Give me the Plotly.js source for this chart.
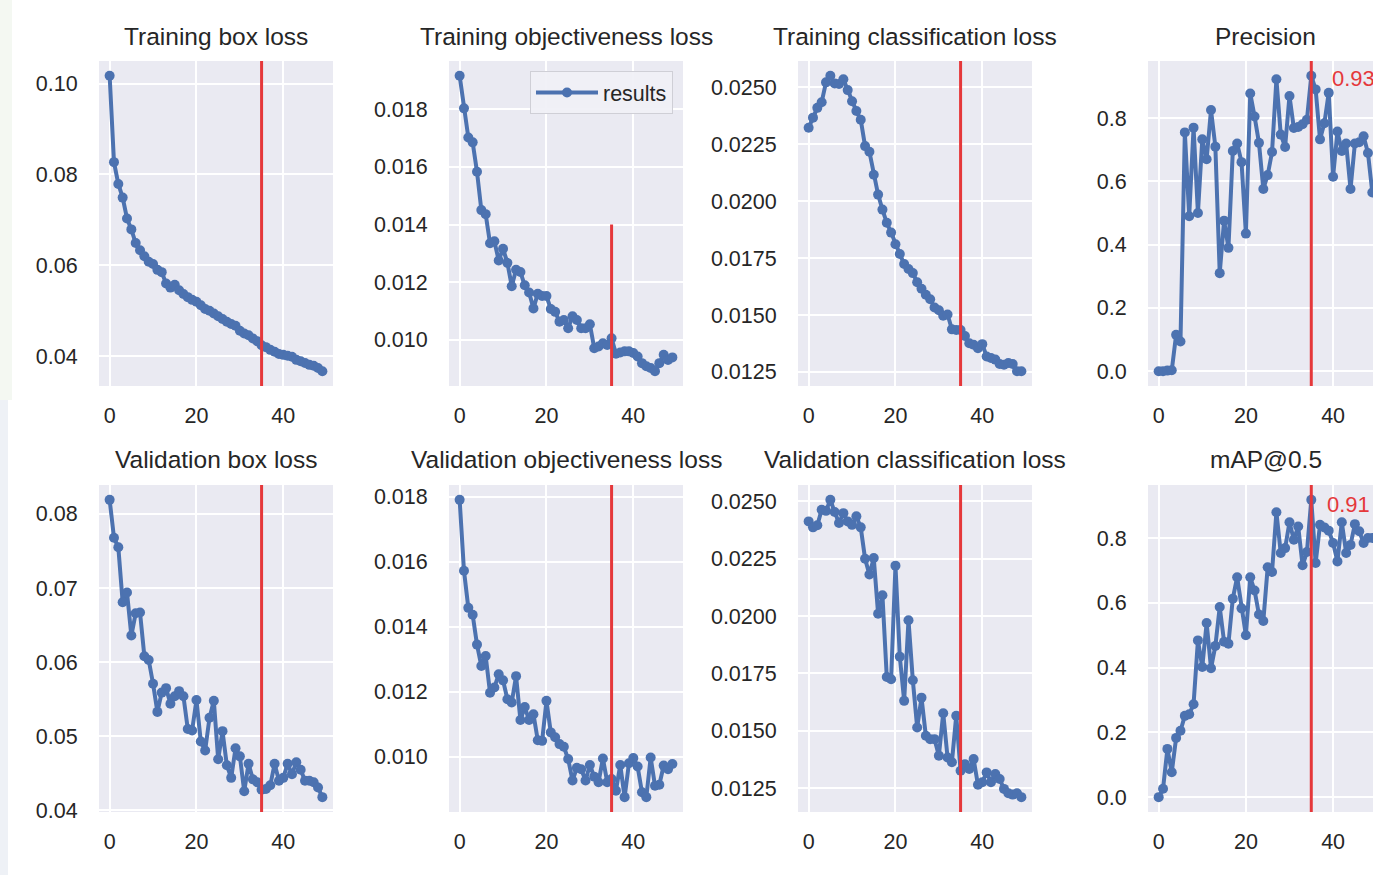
<!DOCTYPE html>
<html>
<head>
<meta charset="utf-8">
<script src="https://cdn.plot.ly/plotly-3.0.1.min.js"></script>
<style>
html,body{margin:0;padding:0;background:#ffffff;overflow:hidden;}
#chart{width:1400px;height:875px;}
</style>
</head>
<body>
<div id="chart"></div>
<script>
// ---------- data ----------
const epochs = [0,1,2,3,4,5,6,7,8,9,10,11,12,13,14,15,16,17,18,19,20,21,22,23,24,25,26,27,28,29,30,31,32,33,34,35,36,37,38,39,40,41,42,43,44,45,46,47,48,49];

const trainBox = [0.1017,0.0827,0.0779,0.0749,0.0703,0.0679,0.0649,0.0633,0.0620,0.0608,0.0603,0.0590,0.0585,0.0560,0.0551,0.0557,0.0545,0.0537,0.0530,0.0524,0.0520,0.0512,0.0504,0.0500,0.0494,0.0488,0.0482,0.0476,0.0471,0.0467,0.0456,0.0450,0.0446,0.0439,0.0433,0.0424,0.0420,0.0414,0.0410,0.0405,0.0403,0.0401,0.0399,0.0392,0.0389,0.0385,0.0381,0.0379,0.0374,0.0367];

const trainObj = [0.01916,0.01803,0.01702,0.01685,0.01583,0.01450,0.01436,0.01335,0.01342,0.01275,0.01316,0.01267,0.01186,0.01243,0.01235,0.01189,0.01164,0.01109,0.01160,0.01152,0.01152,0.01107,0.01097,0.01063,0.01069,0.01040,0.01082,0.01069,0.01040,0.01040,0.01054,0.00971,0.00977,0.00988,0.00982,0.01005,0.00952,0.00956,0.00960,0.00960,0.00954,0.00942,0.00919,0.00908,0.00902,0.00891,0.00919,0.00948,0.00930,0.00939];

const trainCls = [0.02323,0.02367,0.02410,0.02435,0.02522,0.02551,0.02517,0.02515,0.02536,0.02488,0.02439,0.02396,0.02358,0.02242,0.02217,0.02116,0.02029,0.01963,0.01905,0.01862,0.01811,0.01768,0.01724,0.01702,0.01684,0.01644,0.01615,0.01589,0.01569,0.01533,0.01521,0.01497,0.01502,0.01437,0.01434,0.01434,0.01408,0.01376,0.01369,0.01354,0.01372,0.01318,0.01311,0.01304,0.01285,0.01282,0.01289,0.01285,0.01253,0.01253];

const precision = [0.000,0.000,0.002,0.003,0.115,0.094,0.755,0.490,0.770,0.500,0.733,0.670,0.826,0.710,0.310,0.476,0.390,0.696,0.720,0.661,0.435,0.878,0.805,0.722,0.576,0.620,0.693,0.923,0.748,0.709,0.870,0.769,0.772,0.781,0.795,0.934,0.891,0.733,0.784,0.880,0.615,0.758,0.696,0.720,0.576,0.720,0.724,0.743,0.690,0.565];

const valBox = [0.0819,0.0768,0.0755,0.0681,0.0694,0.0636,0.0666,0.0667,0.0608,0.0603,0.0571,0.0533,0.0559,0.0565,0.0544,0.0554,0.0561,0.0554,0.0510,0.0508,0.0549,0.0493,0.0481,0.0525,0.0548,0.0469,0.0507,0.0461,0.0444,0.0484,0.0473,0.0426,0.0463,0.0442,0.0438,0.0428,0.0429,0.0434,0.0463,0.0440,0.0444,0.0463,0.0449,0.0465,0.0455,0.0440,0.0440,0.0438,0.0431,0.0418];

const valObj = [0.01790,0.01572,0.01458,0.01437,0.01345,0.01279,0.01310,0.01197,0.01213,0.01254,0.01235,0.01177,0.01167,0.01248,0.01113,0.01153,0.01113,0.01131,0.01051,0.01049,0.01172,0.01075,0.01060,0.01039,0.01031,0.00993,0.00927,0.00966,0.00962,0.00927,0.00975,0.00939,0.00922,0.00995,0.00922,0.00932,0.00896,0.00975,0.00876,0.00980,0.00996,0.00970,0.00891,0.00876,0.00998,0.00911,0.00914,0.00973,0.00962,0.00978];

const valCls = [0.02413,0.02387,0.02396,0.02464,0.02459,0.02507,0.02454,0.02406,0.02449,0.02413,0.02398,0.02435,0.02387,0.02250,0.02181,0.02253,0.02010,0.02091,0.01734,0.01724,0.02220,0.01823,0.01630,0.01982,0.01720,0.01514,0.01644,0.01478,0.01463,0.01463,0.01391,0.01576,0.01383,0.01362,0.01565,0.01325,0.01354,0.01333,0.01376,0.01264,0.01275,0.01318,0.01275,0.01311,0.01289,0.01246,0.01227,0.01221,0.01227,0.01210];

const map50 = [0.000,0.026,0.149,0.077,0.183,0.205,0.251,0.256,0.287,0.484,0.402,0.538,0.398,0.467,0.587,0.480,0.474,0.613,0.679,0.583,0.500,0.679,0.638,0.564,0.544,0.710,0.695,0.880,0.754,0.769,0.849,0.795,0.836,0.716,0.757,0.918,0.723,0.841,0.833,0.823,0.785,0.728,0.849,0.754,0.779,0.843,0.821,0.785,0.800,0.800];

const panelTitles = ["Training box loss","Training objectiveness loss","Training classification loss","Precision",
                     "Validation box loss","Validation objectiveness loss","Validation classification loss","mAP@0.5"];

const xTicks = [0,20,40];
const boxTicksTrain = [0.04,0.06,0.08,0.10];
const objTicks = [0.010,0.012,0.014,0.016,0.018];
const clsTicks = [0.0125,0.0150,0.0175,0.0200,0.0225,0.0250];
const metricTicks = [0.0,0.2,0.4,0.6,0.8];
const boxTicksVal = [0.04,0.05,0.06,0.07,0.08];

const bestEpoch = 35;
const objMarkerTop = 0.014;
const seriesName = "results";

// ---------- layout helpers ----------
const W = 1400, H = 875;
const colL = [99, 449, 798, 1148];
const colR = [333, 683, 1032, 1383];
const rowT = [61, 485];
const rowB = [386, 812];
const px = p => p / W;
const py = p => 1 - p / H;

const series = [trainBox, trainObj, trainCls, precision, valBox, valObj, valCls, map50];
const yTickSets = [boxTicksTrain, objTicks, clsTicks, metricTicks, boxTicksVal, objTicks, clsTicks, metricTicks];
const yFormats = [".2f", ".3f", ".4f", ".1f", ".2f", ".3f", ".4f", ".1f"];

const BLUE = "#4C72B0";
const RED = "#E5383B";
const TXT = "#262626";
const FONT = "Liberation Sans, Arial, sans-serif";

const traces = [];
const layout = {
  width: W, height: H,
  margin: {l:0, r:0, t:0, b:0},
  paper_bgcolor: "#ffffff",
  plot_bgcolor: "#EAEAF2",
  font: {family: FONT, color: TXT, size: 21.5},
  showlegend: true,
  legend: {
    x: px(673), y: py(71), xanchor: "right", yanchor: "top",
    bgcolor: "rgba(240,240,246,0.92)", bordercolor: "#CFCFD6", borderwidth: 1,
    font: {family: FONT, size: 21.5, color: TXT},
    itemwidth: 62
  },
  shapes: [
    // faint slide background at the left edge
    {type: "rect", xref: "paper", yref: "paper", x0: 0, x1: px(12), y0: py(400), y1: 1,
     fillcolor: "#F4F8F2", line: {width: 0}, layer: "below"},
    {type: "rect", xref: "paper", yref: "paper", x0: 0, x1: px(8), y0: 0, y1: py(400),
     fillcolor: "#EEF1F6", line: {width: 0}, layer: "below"}
  ],
  annotations: []
};

const xRange = [epochs[0] - 0.05 * (epochs[epochs.length-1] - epochs[0]),
                epochs[epochs.length-1] + 0.05 * (epochs[epochs.length-1] - epochs[0])];

for (let i = 0; i < 8; i++) {
  const n = i + 1;
  const col = i % 4, row = Math.floor(i / 4);
  const xs = n === 1 ? "" : String(n);
  const data = series[i];
  const mn = Math.min(...data), mx = Math.max(...data);
  const span = mx - mn;
  const yRange = [mn - 0.05 * span, mx + 0.05 * span];

  traces.push({
    type: "scatter", mode: "lines+markers",
    x: epochs, y: data,
    xaxis: "x" + xs, yaxis: "y" + xs,
    name: seriesName,
    showlegend: n === 2,
    line: {color: BLUE, width: 4},
    marker: {color: BLUE, size: 10, symbol: "circle"},
    cliponaxis: true
  });

  layout["xaxis" + xs] = {
    domain: [px(colL[col]), px(colR[col])],
    anchor: "y" + xs,
    range: xRange,
    tickvals: xTicks,
    ticks: "outside", ticklen: 10, tickcolor: "rgba(0,0,0,0)",
    showgrid: true, gridcolor: "#ffffff", gridwidth: 2,
    zeroline: false, showline: false,
    tickfont: {family: FONT, size: 21.5, color: TXT}
  };
  layout["yaxis" + xs] = {
    domain: [py(rowB[row]), py(rowT[row])],
    anchor: "x" + xs,
    range: yRange,
    tickvals: yTickSets[i],
    tickformat: yFormats[i],
    ticks: "outside", ticklen: 16, tickcolor: "rgba(0,0,0,0)",
    showgrid: true, gridcolor: "#ffffff", gridwidth: 2,
    zeroline: false, showline: false,
    tickfont: {family: FONT, size: 21.5, color: TXT}
  };

  // red marker line at the best epoch
  if (n === 2) {
    layout.shapes.push({
      type: "line", xref: "x2", yref: "y2",
      x0: bestEpoch, x1: bestEpoch, y0: yRange[0], y1: objMarkerTop,
      line: {color: RED, width: 3}
    });
  } else {
    layout.shapes.push({
      type: "line", xref: "x" + xs, yref: "y" + xs + " domain",
      x0: bestEpoch, x1: bestEpoch, y0: 0, y1: 1,
      line: {color: RED, width: 3}
    });
  }

  // panel title
  layout.annotations.push({
    xref: "paper", yref: "paper",
    x: px((colL[col] + colR[col]) / 2),
    y: py(row === 0 ? 37 : 459),
    xanchor: "center", yanchor: "middle",
    text: panelTitles[i], showarrow: false,
    font: {family: FONT, size: 24.5, color: TXT}
  });
}

// value labels at the best epoch for the metric panels
[[4, precision, 19, -3], [8, map50, 14, -5]].forEach(([n, arr, dx, dy]) => {
  const v = arr[bestEpoch];
  layout.annotations.push({
    xref: "x" + n, yref: "y" + n,
    x: bestEpoch, y: v,
    xanchor: "left", yanchor: "middle",
    xshift: dx, yshift: dy,
    text: (Math.floor(v * 100) / 100).toFixed(2),
    showarrow: false,
    font: {family: FONT, size: 22, color: RED}
  });
});

Plotly.newPlot("chart", traces, layout, {staticPlot: true, displayModeBar: false});
</script>
</body>
</html>
